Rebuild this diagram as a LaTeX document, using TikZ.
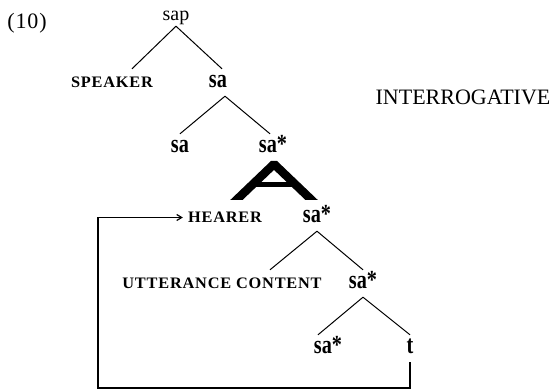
\documentclass[tikz,border=0pt]{standalone}
\usepackage{fontspec}
\setmainfont{Liberation Serif}
\newfontfamily\catfont[FakeStretch=0.78]{Liberation Serif Bold}
\newfontfamily\rolefont[FakeStretch=1.02, LetterSpace=5]{Liberation Serif Bold}
\usetikzlibrary{arrows.meta}

\begin{document}
\begin{tikzpicture}[
    x=1pt, y=-1pt,
    cat/.style={font=\catfont\fontsize{26}{30}\selectfont, anchor=base,
                text height=13pt, text depth=4pt, inner sep=5pt},
    role/.style={cat, font=\rolefont\fontsize{16}{18}\selectfont},
    txt/.style={font=\fontsize{22}{26}\selectfont, anchor=base},
    branch/.style={line width=1pt},
    >={Straight Barb[length=5pt, width=6pt]}
  ]
  \useasboundingbox (0,0) rectangle (555,391);

  % Example number and root
  \node[txt, font=\fontsize{22}{26}\selectfont\addfontfeature{LetterSpace=4}] (num) at (27,28) {(10)};
  \node[txt, font=\fontsize{20}{24}\selectfont, inner sep=2pt, text depth=4pt] (sap) at (176,20) {sap};

  % Speaker level
  \node[role] (speaker) at (112,87) {SPEAKER};
  \node[cat] (sa) at (218,87) {sa};
  \node[txt] (interrog) at (463,104) {INTERROGATIVE};

  % Act level
  \node[cat] (saL) at (180,152) {sa};
  \node[cat] (saA) at (273,152) {sa*};

  % Hearer level
  \node[role] (hearer) at (225,222) {HEARER};
  \node[cat] (saB) at (317,222) {sa*};

  % Content level
  \node[role] (content) at (222,288) {UTTERANCE CONTENT};
  \node[cat] (saC) at (363,288) {sa*};

  % Bottom level
  \node[cat] (saD) at (328,353) {sa*};
  \node[cat] (t) at (410,353) {t};

  % Branches
  \draw[branch] (sap.south) -- ([xshift=20pt]speaker.north);
  \draw[branch] (sap.south) -- ([xshift=4pt]sa.north);
  \draw[branch] ([xshift=7pt]sa.south) -- (saL.north);
  \draw[branch] ([xshift=7pt]sa.south) -- ([xshift=-3pt]saA.north);
  \draw[branch] (saB.south) -- ([xshift=48pt]content.north);
  \draw[branch] (saB.south) -- (saC.north);
  \draw[branch] (saC.south) -- ([xshift=-10pt]saD.north);
  \draw[branch] (saC.south) -- (t.north);

  % The big wedge under sa*
  \begin{scope}
    \clip (220,150) rectangle (330,199);
    \draw[line width=8.5pt, line join=bevel] (228,208) -- (274,164) -- (320,208);
    \draw[line width=5pt] (250,184.5) -- (298,184.5);
  \end{scope}

  % Loop back from t to HEARER
  \coordinate (loopbl) at (98,388);
  \draw[line width=1.2pt, ->] (t.south) |- (loopbl) |- (hearer.west);
  \draw[line width=2.4pt] (98,273) -- (98,288);
\end{tikzpicture}
\end{document}
